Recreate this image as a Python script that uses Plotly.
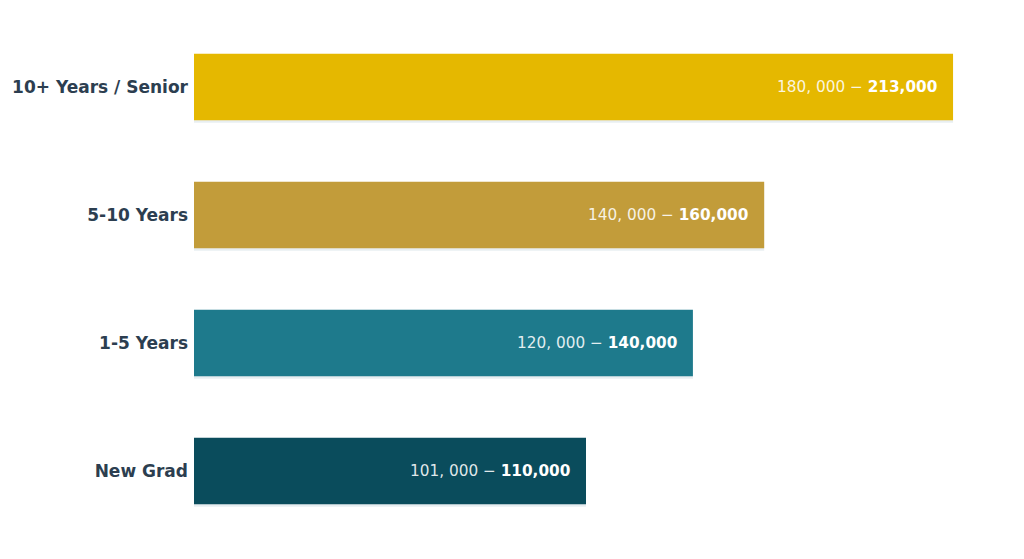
import plotly.graph_objects as go

# salary bands by experience (bottom -> top)
LEVELS = ["New Grad", "1-5 Years", "5-10 Years", "10+ Years / Senior"]
LOW = [101000, 120000, 140000, 180000]
HIGH = [110000, 140000, 160000, 213000]
COLORS = ["#0a4c5c", "#1e7a8c", "#c29c3a", "#e5b800"]


def fmt(v):
    return f"{v:,}"


fig = go.Figure()

# soft shadow under each bar
fig.add_trace(go.Bar(
    x=HIGH, y=LEVELS, orientation="h", width=0.52, offset=-0.28,
    marker=dict(color="rgba(190,205,215,0.35)", line=dict(width=0)),
    hoverinfo="skip", showlegend=False,
))
fig.add_trace(go.Bar(
    x=HIGH, y=LEVELS, orientation="h", width=0.52, offset=-0.26,
    marker=dict(color=COLORS, line=dict(width=0)),
    hoverinfo="skip", showlegend=False,
))

for lvl, lo, hi in zip(LEVELS, LOW, HIGH):
    lo_txt = fmt(lo).replace(",", ", ")
    fig.add_annotation(
        x=hi, y=lvl, xanchor="right", xshift=-14, showarrow=False,
        text=f"<span style='color:rgba(255,255,255,0.88)'>{lo_txt} − </span><b>{fmt(hi)}</b>",
        font=dict(family="DejaVu Sans", size=15.3, color="white"),
    )

fig.update_layout(
    width=1024, height=559, barmode="overlay",
    margin=dict(l=186, r=41, t=15, b=32, autoexpand=False),
    plot_bgcolor="white", paper_bgcolor="white",
    font=dict(family="DejaVu Sans"),
)
fig.update_xaxes(range=[0, 213000 * 1.05], visible=False)
fig.update_yaxes(
    range=[-0.5, 3.5], showgrid=False, zeroline=False, showline=False, ticks="",
    automargin=False,
    tickmode="array", tickvals=LEVELS, ticktext=[f"<b>{l}</b>" for l in LEVELS],
    tickfont=dict(family="DejaVu Sans", size=17, color="#2c3e50"), ticklabelstandoff=5,
)

fig.write_html("out.html")
